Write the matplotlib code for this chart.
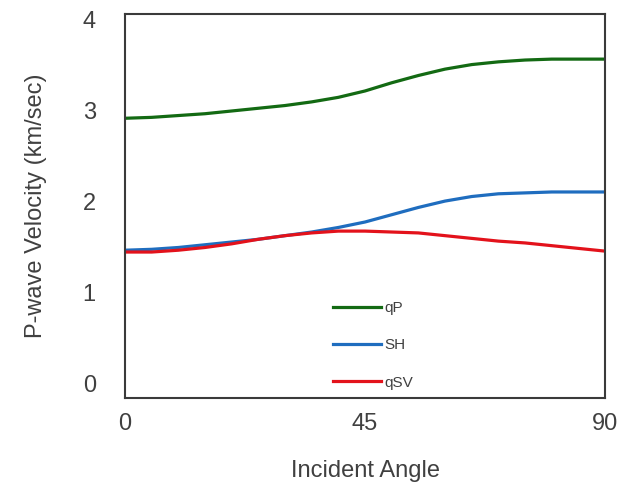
import matplotlib
matplotlib.use("Agg")
import matplotlib.pyplot as plt

plt.rcParams['font.family'] = ['Liberation Sans', 'DejaVu Sans']

# incident angle (degrees) and velocities read every 5 degrees
angle = [0, 5, 10, 15, 20, 25, 30, 35, 40, 45, 50, 55, 60, 65, 70, 75, 80, 85, 90]
qP = [2.92, 2.93, 2.95, 2.97, 3.00, 3.03, 3.06, 3.10, 3.15, 3.22, 3.31, 3.39, 3.46,
      3.51, 3.54, 3.56, 3.57, 3.57, 3.57]
SH = [1.47, 1.48, 1.50, 1.53, 1.56, 1.59, 1.63, 1.67, 1.72, 1.78, 1.86, 1.94, 2.01,
      2.06, 2.09, 2.10, 2.11, 2.11, 2.11]
qSV = [1.45, 1.45, 1.47, 1.50, 1.54, 1.59, 1.63, 1.66, 1.68, 1.68, 1.67, 1.66, 1.63,
       1.60, 1.57, 1.55, 1.52, 1.49, 1.46]

xticks = [0, 45, 90]
yticks = [0, 1, 2, 3, 4]

fig = plt.figure(figsize=(6.17, 4.84), dpi=100)
ax = fig.add_axes([0.2026, 0.1777, 0.778, 0.7934])

ax.plot(angle, qP, color='#136a13', lw=2.3, label='qP')
ax.plot(angle, SH, color='#1f6dbf', lw=2.3, label='SH')
ax.plot(angle, qSV, color='#e3121b', lw=2.3, label='qSV')

ax.set_xlim(0, 90)
ax.set_ylim(-0.154, 4.066)
ax.set_xticks(xticks)
ax.set_yticks(yticks)
ax.tick_params(length=0, labelsize=17, colors='#404040')
ax.tick_params(axis='x', pad=11)
ax.tick_params(axis='y', pad=21)

for s in ax.spines.values():
    s.set_color('#3a3a3a')
    s.set_linewidth(1.5)

ax.set_xlabel('Incident Angle', fontsize=17, color='#404040', labelpad=18)
ax.set_ylabel('P-wave Velocity (km/sec)', fontsize=17, color='#404040', labelpad=26)

ax.legend(loc='upper left', bbox_to_anchor=(0.417, 0.272), frameon=False,
          fontsize=11, handlelength=3.15, handletextpad=0.2, labelspacing=1.52,
          borderpad=0, labelcolor='#404040')

fig.savefig('out.png', dpi=100)
